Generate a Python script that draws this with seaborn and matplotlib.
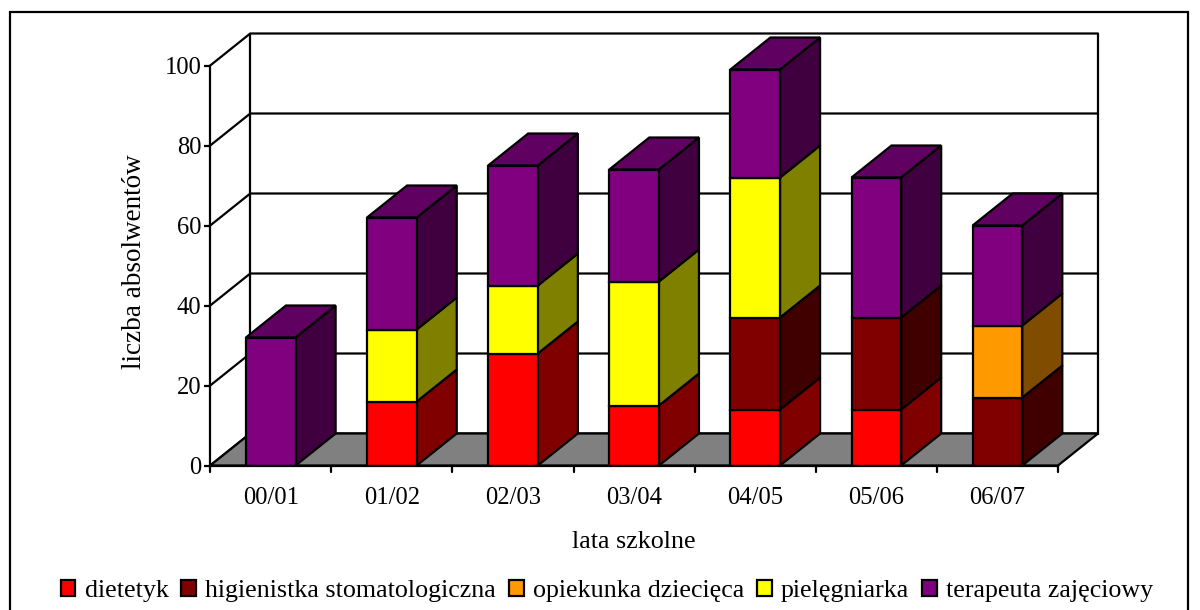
# wykres absolwentow - slupki skumulowane z efektem 3D
import pandas as pd
import matplotlib
matplotlib.use("Agg")
import matplotlib.pyplot as plt
import seaborn as sns
from matplotlib.patches import Patch, Polygon, Rectangle

lata = ["00/01", "01/02", "02/03", "03/04", "04/05", "05/06", "06/07"]
dietetyk = [0, 16, 28, 15, 14, 14, 0]
higienistka = [0, 0, 0, 0, 23, 23, 17]
opiekunka = [0, 0, 0, 0, 0, 0, 18]
pielegniarka = [0, 18, 17, 31, 35, 0, 0]
terapeuta = [32, 28, 30, 28, 27, 35, 25]

nazwy = ["dietetyk", "higienistka stomatologiczna", "opiekunka dziecięca",
         "pielęgniarka", "terapeuta zajęciowy"]
serie = [dietetyk, higienistka, opiekunka, pielegniarka, terapeuta]
kolory = ["#ff0000", "#800000", "#ff9900", "#ffff00", "#800080"]
boki = ["#800000", "#400000", "#804d00", "#808000", "#400040"]
gora_kolor = "#600060"

LW = 1.6
DX = 40 / 121  # glebokosc w jednostkach osi x
DY = 8         # glebokosc w jednostkach osi y
SZER = 0.41
FONT = 18.7
FONT_TICK = 17.7

sns.set_theme(style="white")
plt.rcParams["font.family"] = ["Liberation Serif", "DejaVu Serif"]
plt.rcParams["text.color"] = "black"

fig = plt.figure(figsize=(12, 6.1), dpi=100)
ax = fig.add_axes([210.2 / 1200, 1 - 465.5 / 610, 847.8 / 1200, 400 / 610])
ax.patch.set_alpha(0)

# ramka calego wykresu
fig.add_artist(Rectangle((10 / 1200, -0.02), 1178 / 1200, 1 - 12 / 610 + 0.02,
                         transform=fig.transFigure, fill=False, ec="black", lw=LW))

x0, x1 = -0.5, 6.5


def poly(pts, fc, z):
    ax.add_patch(Polygon(pts, closed=True, fc=fc, ec="black", lw=LW, zorder=z,
                         clip_on=False, joinstyle="miter"))


# tylna sciana i podloga
for t in [0, 20, 40, 60, 80, 100]:
    ax.plot([x0, x0 + DX, x1 + DX], [t, t + DY, t + DY], color="black", lw=LW,
            zorder=1.5, clip_on=False, solid_joinstyle="miter")
ax.plot([x0 + DX, x0 + DX], [DY, 100 + DY], color="black", lw=LW, zorder=1.5, clip_on=False)
ax.plot([x1 + DX, x1 + DX], [DY, 100 + DY], color="black", lw=LW, zorder=1.5, clip_on=False)
poly([(x0, 0), (x0 + DX, DY), (x1 + DX, DY), (x1, 0)], "#808080", 1.6)

# slupki: przod z seaborna, bok dorysowany
dol = [0] * len(lata)
for nazwa, wart, kol, bok in zip(nazwy, serie, kolory, boki):
    df = pd.DataFrame({"rok": lata, "wart": wart, "dol": dol})
    df = df[df["wart"] > 0]
    poz = [lata.index(r) for r in df["rok"]]
    sns.barplot(x=poz, y=df["wart"].values, bottom=df["dol"].values, native_scale=True,
                color=kol, saturation=1, width=SZER, edgecolor="black", linewidth=LW,
                zorder=3, ax=ax)
    for p, w, d in zip(poz, df["wart"], df["dol"]):
        r = p + SZER / 2
        poly([(r, d), (r + DX, d + DY), (r + DX, d + w + DY), (r, d + w)], bok, 2)
    dol = [a + b for a, b in zip(dol, wart)]

# gorne sciany
for i, h in enumerate(dol):
    l, r = i - SZER / 2, i + SZER / 2
    poly([(l, h), (r, h), (r + DX, h + DY), (l + DX, h + DY)], gora_kolor, 2)

ax.set_xlim(x0, x1)
ax.set_ylim(0, 100)
for s in ["top", "right"]:
    ax.spines[s].set_visible(False)
for s in ["left", "bottom"]:
    ax.spines[s].set_linewidth(LW)
    ax.spines[s].set_color("black")
    ax.spines[s].set_zorder(4)

ax.set_yticks([0, 20, 40, 60, 80, 100])
ax.set_xticks(range(len(lata)))
ax.set_xticklabels(lata)
ax.tick_params(axis="x", length=0, pad=15.5, labelsize=FONT_TICK, colors="black")
ax.tick_params(axis="y", length=4.5, width=LW, pad=2, left=True, labelsize=FONT_TICK, colors="black")
for g in [x0 + i for i in range(8)]:
    ax.plot([g, g], [0, -1.6], color="black", lw=LW, clip_on=False, zorder=4)

fig.text(134.5 / 1200, 1 - 262 / 610, "liczba absolwentów", rotation=90, ha="center",
         va="center", fontsize=FONT + 0.8)
fig.text(634 / 1200, 1 - 542 / 610, "lata szkolne", ha="center", va="center", fontsize=FONT)

uchwyty = [Patch(fc=k, ec="black", lw=LW) for k in kolory]
fig.legend(uchwyty, nazwy, ncol=5, loc="center", bbox_to_anchor=(607 / 1200, 1 - 591 / 610),
           frameon=False, fontsize=FONT, handlelength=0.57, handleheight=0.6,
           handletextpad=0.35, columnspacing=0.5, borderpad=0, labelspacing=0)

fig.savefig("out.png", dpi=100)
plt.close(fig)
